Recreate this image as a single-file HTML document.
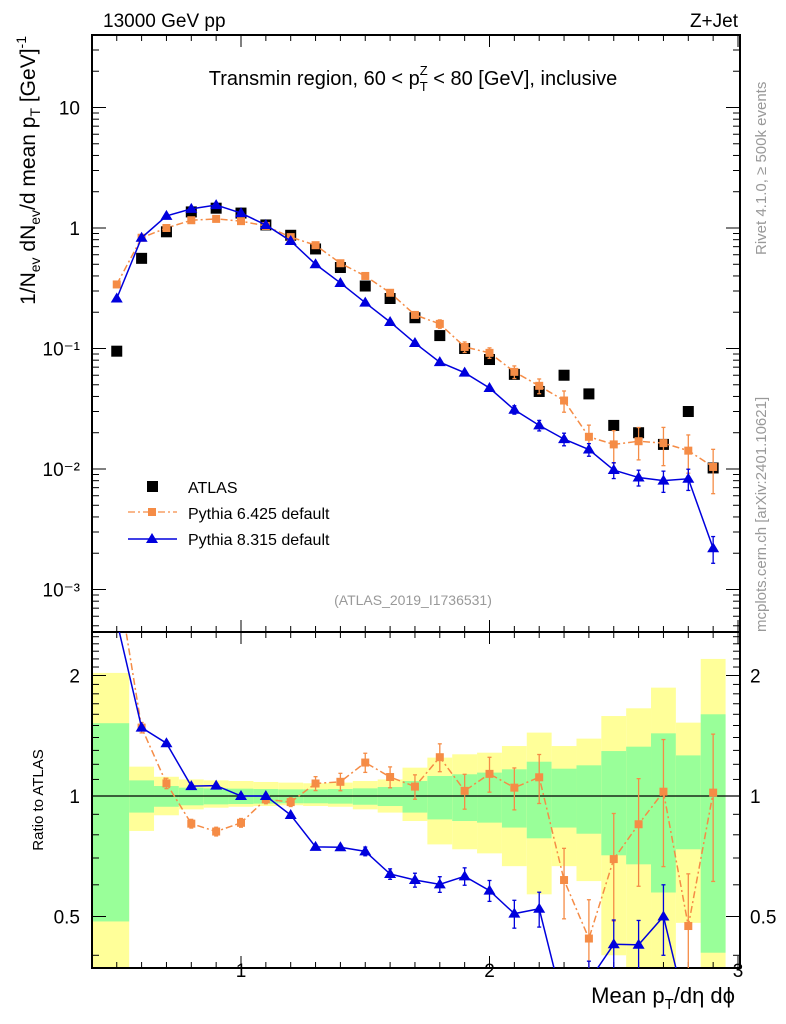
<!DOCTYPE html>
<html><head><meta charset="utf-8"><style>
html,body{margin:0;padding:0;background:#fff;width:786px;height:1024px;overflow:hidden;}
svg{display:block;font-family:"Liberation Sans",Arial,sans-serif;}
</style></head><body>
<svg id="chart" width="786" height="1024" viewBox="0 0 786 1024" xmlns="http://www.w3.org/2000/svg">
<g id="bands"></g>
<g id="grid"></g>
<g id="series"></g>
<text x="103" y="27" font-size="19">13000 GeV pp</text>
<text x="738" y="27" font-size="19" text-anchor="end">Z+Jet</text>
<text x="413" y="85" font-size="20" text-anchor="middle">Transmin region, 60 &lt; p<tspan font-size="13" dy="6">T</tspan><tspan font-size="13" dx="-8" dy="-16">Z</tspan><tspan dy="10"> &lt; 80 [GeV], inclusive</tspan></text>
<text x="413" y="605" font-size="14" fill="#999" text-anchor="middle">(ATLAS_2019_I1736531)</text>
<text transform="translate(766,255) rotate(-90)" font-size="15" fill="#999">Rivet 4.1.0, ≥ 500k events</text>
<text transform="translate(766,632) rotate(-90)" font-size="15" fill="#999">mcplots.cern.ch [arXiv:2401.10621]</text>
<text transform="translate(35,36) rotate(-90)" font-size="21" text-anchor="end">1/N<tspan font-size="14" dy="5">ev</tspan><tspan dy="-5"> dN</tspan><tspan font-size="14" dy="5">ev</tspan><tspan dy="-5">/d mean p</tspan><tspan font-size="14" dy="5">T</tspan><tspan dy="-5"> [GeV]</tspan><tspan font-size="14" dy="-9">-1</tspan></text>
<text transform="translate(43,800) rotate(-90)" font-size="15" text-anchor="middle">Ratio to ATLAS</text>
<text x="735" y="1003" font-size="22" text-anchor="end">Mean p<tspan font-size="15" dy="6">T</tspan><tspan dy="-6">/dη dϕ</tspan></text>
<g>
<rect x="147" y="481" width="11" height="11" fill="#000"/>
<text x="188" y="493" font-size="16">ATLAS</text>
<line x1="128" y1="512" x2="177" y2="512" stroke="#f58c46" stroke-width="1.3" stroke-dasharray="7,3,2,3"/>
<rect x="148" y="508" width="8" height="8" fill="#f58c46"/>
<text x="188" y="519" font-size="16">Pythia 6.425 default</text>
<line x1="128" y1="539" x2="177" y2="539" stroke="#0000dd" stroke-width="1.5"/>
<polygon points="152,533 158,543 146,543" fill="#0000dd"/>
<text x="188" y="545" font-size="16">Pythia 8.315 default</text>
</g>
</svg>
<script>
const xs = [0.5,0.6,0.7,0.8,0.9,1.0,1.1,1.2,1.3,1.4,1.5,1.6,1.7,1.8,1.9,2.0,2.1,2.2,2.3,2.4,2.5,2.6,2.7,2.8,2.9];
const binLo = [0.4,0.55,0.65,0.75,0.85,0.95,1.05,1.15,1.25,1.35,1.45,1.55,1.65,1.75,1.85,1.95,2.05,2.15,2.25,2.35,2.45,2.55,2.65,2.75,2.85];
const binHi = [0.55,0.65,0.75,0.85,0.95,1.05,1.15,1.25,1.35,1.45,1.55,1.65,1.75,1.85,1.95,2.05,2.15,2.25,2.35,2.45,2.55,2.65,2.75,2.85,2.95];
const atlas = [0.095,0.56,0.93,1.36,1.46,1.33,1.06,0.87,0.67,0.47,0.33,0.26,0.18,0.128,0.1,0.081,0.061,0.044,0.06,0.042,0.023,0.02,0.016,0.03,0.0102];
const py6 = [0.34,0.83,1.0,1.16,1.19,1.14,1.04,0.84,0.72,0.51,0.40,0.29,0.19,0.16,0.103,0.092,0.064,0.049,0.037,0.0185,0.016,0.017,0.0164,0.0142,0.0104];
const py6Err = [0.02,0.03,0.03,0.025,0.025,0.025,0.025,0.025,0.04,0.05,0.055,0.06,0.07,0.08,0.1,0.1,0.12,0.14,0.2,0.25,0.3,0.3,0.35,0.35,0.4];
const py8 = [0.26,0.83,1.26,1.44,1.55,1.33,1.06,0.78,0.50,0.35,0.24,0.166,0.111,0.077,0.063,0.047,0.031,0.023,0.0177,0.0145,0.0098,0.0085,0.008,0.0083,0.0022];
const py8Err = [0.02,0.02,0.02,0.02,0.02,0.02,0.02,0.02,0.02,0.02,0.025,0.03,0.04,0.045,0.05,0.06,0.08,0.1,0.12,0.12,0.15,0.15,0.2,0.2,0.25];
const yellowUp = [2.03,1.184,1.117,1.10,1.094,1.090,1.084,1.080,1.076,1.080,1.090,1.10,1.177,1.247,1.271,1.283,1.333,1.44,1.333,1.391,1.584,1.656,1.865,1.525,2.20];
const greenUp = [1.52,1.094,1.059,1.049,1.045,1.043,1.041,1.039,1.039,1.041,1.045,1.053,1.090,1.122,1.133,1.144,1.166,1.218,1.170,1.193,1.295,1.328,1.434,1.263,1.60];
const greenDn = [0.486,0.909,0.940,0.948,0.953,0.955,0.957,0.959,0.959,0.957,0.951,0.944,0.909,0.874,0.866,0.858,0.834,0.784,0.834,0.805,0.711,0.675,0.574,0.736,0.406];
const yellowDn = [0.30,0.818,0.895,0.926,0.935,0.940,0.944,0.948,0.944,0.940,0.926,0.909,0.866,0.757,0.736,0.719,0.668,0.568,0.668,0.613,0.40,0.35,0.35,0.482,0.30];
const mainTicks = ["10","1","10⁻¹","10⁻²","10⁻³"];
const ratioTicks = [2,1,0.5];
const xTicks = [1,2,3];

const NS="http://www.w3.org/2000/svg";
const L=92,R=740,T=35,M=632,B=968;
const X=v=>241+(v-1)*248.5;
const Y=v=>228-Math.log10(v)*120.5;
const RY=v=>796-Math.log2(v)*120.5;
function mk(tag,attrs,parent){const e=document.createElementNS(NS,tag);for(const k in attrs)e.setAttribute(k,attrs[k]);parent.appendChild(e);return e;}
const bands=document.getElementById('bands'),grid=document.getElementById('grid'),ser=document.getElementById('series');
const clip=(v)=>Math.max(M,Math.min(B,v));
for(let i=0;i<xs.length;i++){
  const x1=Math.max(L,X(binLo[i])),x2=X(binHi[i]);
  const yb=mk('rect',{x:x1,y:clip(RY(yellowUp[i])),width:x2-x1,height:clip(RY(yellowDn[i]))-clip(RY(yellowUp[i])),fill:'#ffff99'},bands);
  
  
  const gb=mk('rect',{x:x1,y:clip(RY(greenUp[i])),width:x2-x1,height:clip(RY(greenDn[i]))-clip(RY(greenUp[i])),fill:'#99ff99'},bands);
  
  
}
mk('rect',{x:L,y:T,width:R-L,height:M-T,fill:'none',stroke:'#000','stroke-width':2},grid);
mk('rect',{x:L,y:M,width:R-L,height:B-M,fill:'none',stroke:'#000','stroke-width':2},grid);
mk('line',{x1:L,y1:RY(1),x2:R,y2:RY(1),stroke:'#000','stroke-width':1.3},grid);
for(let v=0.4;v<=3.001;v+=0.1){
  const x=X(v),maj=Math.abs(v-Math.round(v))<0.01,len=maj?12:6;
  if(x<L)continue;
  for(const [y0,d] of [[T,1],[M,-1],[M,1],[B,-1]]) mk('line',{x1:x,y1:y0,x2:x,y2:y0+d*len,stroke:'#000','stroke-width':1},grid);
}
xTicks.forEach(v=>{const t=mk('text',{x:X(v),y:977,'font-size':19,'text-anchor':'middle'},grid);t.textContent=v;

});
for(let e=-4;e<=1;e++){for(let m=1;m<10;m++){const v=m*Math.pow(10,e),y=Y(v);if(y<T||y>M)continue;const len=m==1?14:7;
mk('line',{x1:L,y1:y,x2:L+len,y2:y,stroke:'#000','stroke-width':1},grid);mk('line',{x1:R,y1:y,x2:R-len,y2:y,stroke:'#000','stroke-width':1},grid);}}
mainTicks.forEach((s,i)=>{const t=mk('text',{x:80,y:Y(Math.pow(10,1-i))+7,'font-size':19,'text-anchor':'end'},grid);t.textContent=s;

});
for(let v=0.4;v<=2.6;v+=0.1){const y=RY(v);if(y<M||y>B)continue;const maj=[0.5,1,2].some(q=>Math.abs(q-v)<0.01);const len=maj?14:7;
mk('line',{x1:L,y1:y,x2:L+len,y2:y,stroke:'#000','stroke-width':1},grid);mk('line',{x1:R,y1:y,x2:R-len,y2:y,stroke:'#000','stroke-width':1},grid);}
ratioTicks.forEach(v=>{const t=mk('text',{x:80,y:RY(v)+7,'font-size':19,'text-anchor':'end'},grid);t.textContent=v;


const t2=mk('text',{x:750,y:RY(v)+7,'font-size':19},grid);t2.textContent=v;

});
const defs=mk('defs',{},document.getElementById('chart'));
const c1=mk('clipPath',{id:'cm'},defs);mk('rect',{x:L,y:T,width:R-L,height:M-T},c1);
const c2=mk('clipPath',{id:'cr'},defs);mk('rect',{x:L,y:M,width:R-L,height:B-M},c2);
function drawSeries(vals,errs,color,dash,marker,name,yf,cid,ratio){
  const g=mk('g',{'clip-path':'url(#'+cid+')'},ser);
  
  
  const v=vals.map((a,i)=>ratio?a/atlas[i]:a);
  const pts=xs.map((x,i)=>X(x)+','+yf(v[i])).join(' ');
  const pl=mk('polyline',{points:pts,fill:'none',stroke:color,'stroke-width':1.5},g);
  if(dash)pl.setAttribute('stroke-dasharray',dash);
  xs.forEach((x,i)=>{
    const cx=X(x),cy=yf(v[i]);
    const y1=yf(v[i]*(1+errs[i])),y2=yf(v[i]*Math.max(0.05,1-errs[i]));
    if(Math.abs(y2-y1)>8){mk('line',{x1:cx,y1:y1,x2:cx,y2:y2,stroke:color,'stroke-width':1.3},g);
      mk('line',{x1:cx-2,y1:y1,x2:cx+2,y2:y1,stroke:color,'stroke-width':1.3},g);mk('line',{x1:cx-2,y1:y2,x2:cx+2,y2:y2,stroke:color,'stroke-width':1.3},g);}
    let m;
    if(marker==='sq')m=mk('rect',{x:cx-4,y:cy-4,width:8,height:8,fill:color},g);
    else m=mk('polygon',{points:`${cx},${cy-6} ${cx+6},${cy+4} ${cx-6},${cy+4}`,fill:color},g);
    
    
  });
}
const ga=mk('g',{'clip-path':'url(#cm)'},ser);


xs.forEach((x,i)=>{const r=mk('rect',{x:X(x)-5.5,y:Y(atlas[i])-5.5,width:11,height:11,fill:'#000'},ga);

});
drawSeries(py6,py6Err,'#f58c46','7,3,2,3','sq','pythia6-series',Y,'cm',false);
drawSeries(py8,py8Err,'#0000dd',null,'tri','pythia8-series',Y,'cm',false);
drawSeries(py6,py6Err,'#f58c46','7,3,2,3','sq','pythia6-ratio',RY,'cr',true);
drawSeries(py8,py8Err,'#0000dd',null,'tri','pythia8-ratio',RY,'cr',true);
</script>
</body></html>
